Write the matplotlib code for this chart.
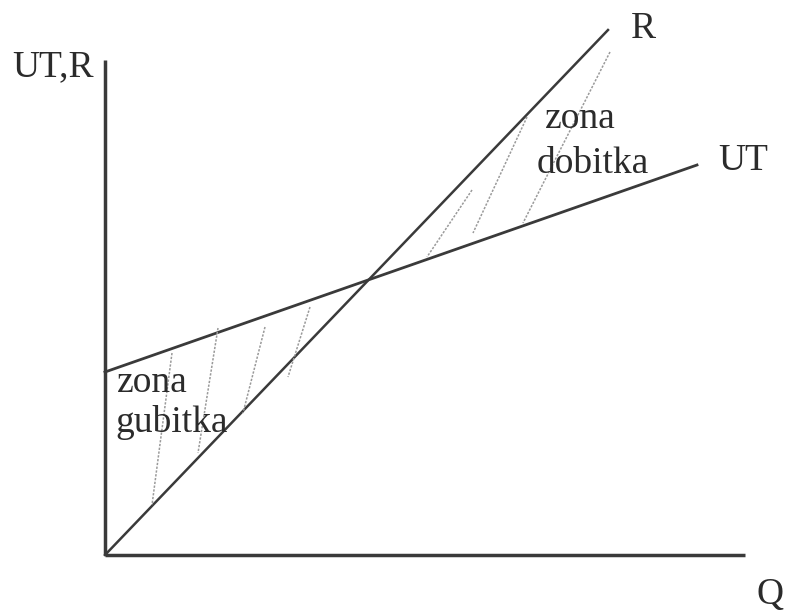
# Break-even chart (UT = ukupni troskovi, R = prihod) redrawn from the scan
import numpy as np
import matplotlib.pyplot as plt

plt.rcParams['font.family'] = ['Liberation Serif', 'DejaVu Serif']

# line data (Q on x, value on y)
q_r = [0, 50.3]
r_vals = [0, 52.5]
q_ut = [0, 59.2]
ut_vals = [18.3, 39.0]

# hatch strokes: [q_top, v_top, q_bottom, v_bottom]
loss_hatch = [
    [6.7, 20.2, 4.7, 5.0],
    [11.3, 22.7, 9.3, 10.2],
    [16.0, 22.8, 13.8, 14.2],
    [20.5, 24.8, 18.3, 17.8],
]
profit_hatch = [
    [36.7, 36.5, 32.2, 29.8],
    [42.2, 43.8, 36.8, 32.2],
    [50.5, 50.3, 41.8, 33.2],
]

fig = plt.figure(figsize=(7.87, 6.16), dpi=100)
ax = fig.add_axes([0, 0, 1, 1])
ax.set_xlim(-10.5, 68.2)
ax.set_ylim(-6.1, 55.5)
ax.axis('off')

line_col = '#3a3a3a'

# axes
ax.plot([0, 0], [0, 49.5], color=line_col, lw=2.5, solid_capstyle='butt')
ax.plot([0, 64.0], [0, 0], color=line_col, lw=2.5, solid_capstyle='butt')

# R and UT
ax.plot(q_r, r_vals, color=line_col, lw=1.8)
ax.plot(q_ut, ut_vals, color=line_col, lw=2.0)

# hatching
for h in loss_hatch + profit_hatch:
    ax.plot([h[0], h[2]], [h[1], h[3]], color='#9a9a9a', lw=1.1, ls=(0, (1.5, 1)))

fs = 27
txt_col = '#2b2b2b'
ax.text(-9.3, 47.9, 'UT,R', fontsize=fs, color=txt_col)
ax.text(52.6, 51.7, 'R', fontsize=fs, color=txt_col)
ax.text(61.3, 38.5, 'UT', fontsize=fs, color=txt_col)
ax.text(44.0, 42.7, 'zona', fontsize=fs, color=txt_col)
ax.text(43.2, 38.2, 'dobitka', fontsize=fs, color=txt_col)
ax.text(1.2, 16.3, 'zona', fontsize=fs, color=txt_col)
ax.text(1.0, 12.3, 'gubitka', fontsize=fs, color=txt_col)
ax.text(65.2, -4.9, 'Q', fontsize=fs, color=txt_col)

fig.savefig('out.png', dpi=100)
